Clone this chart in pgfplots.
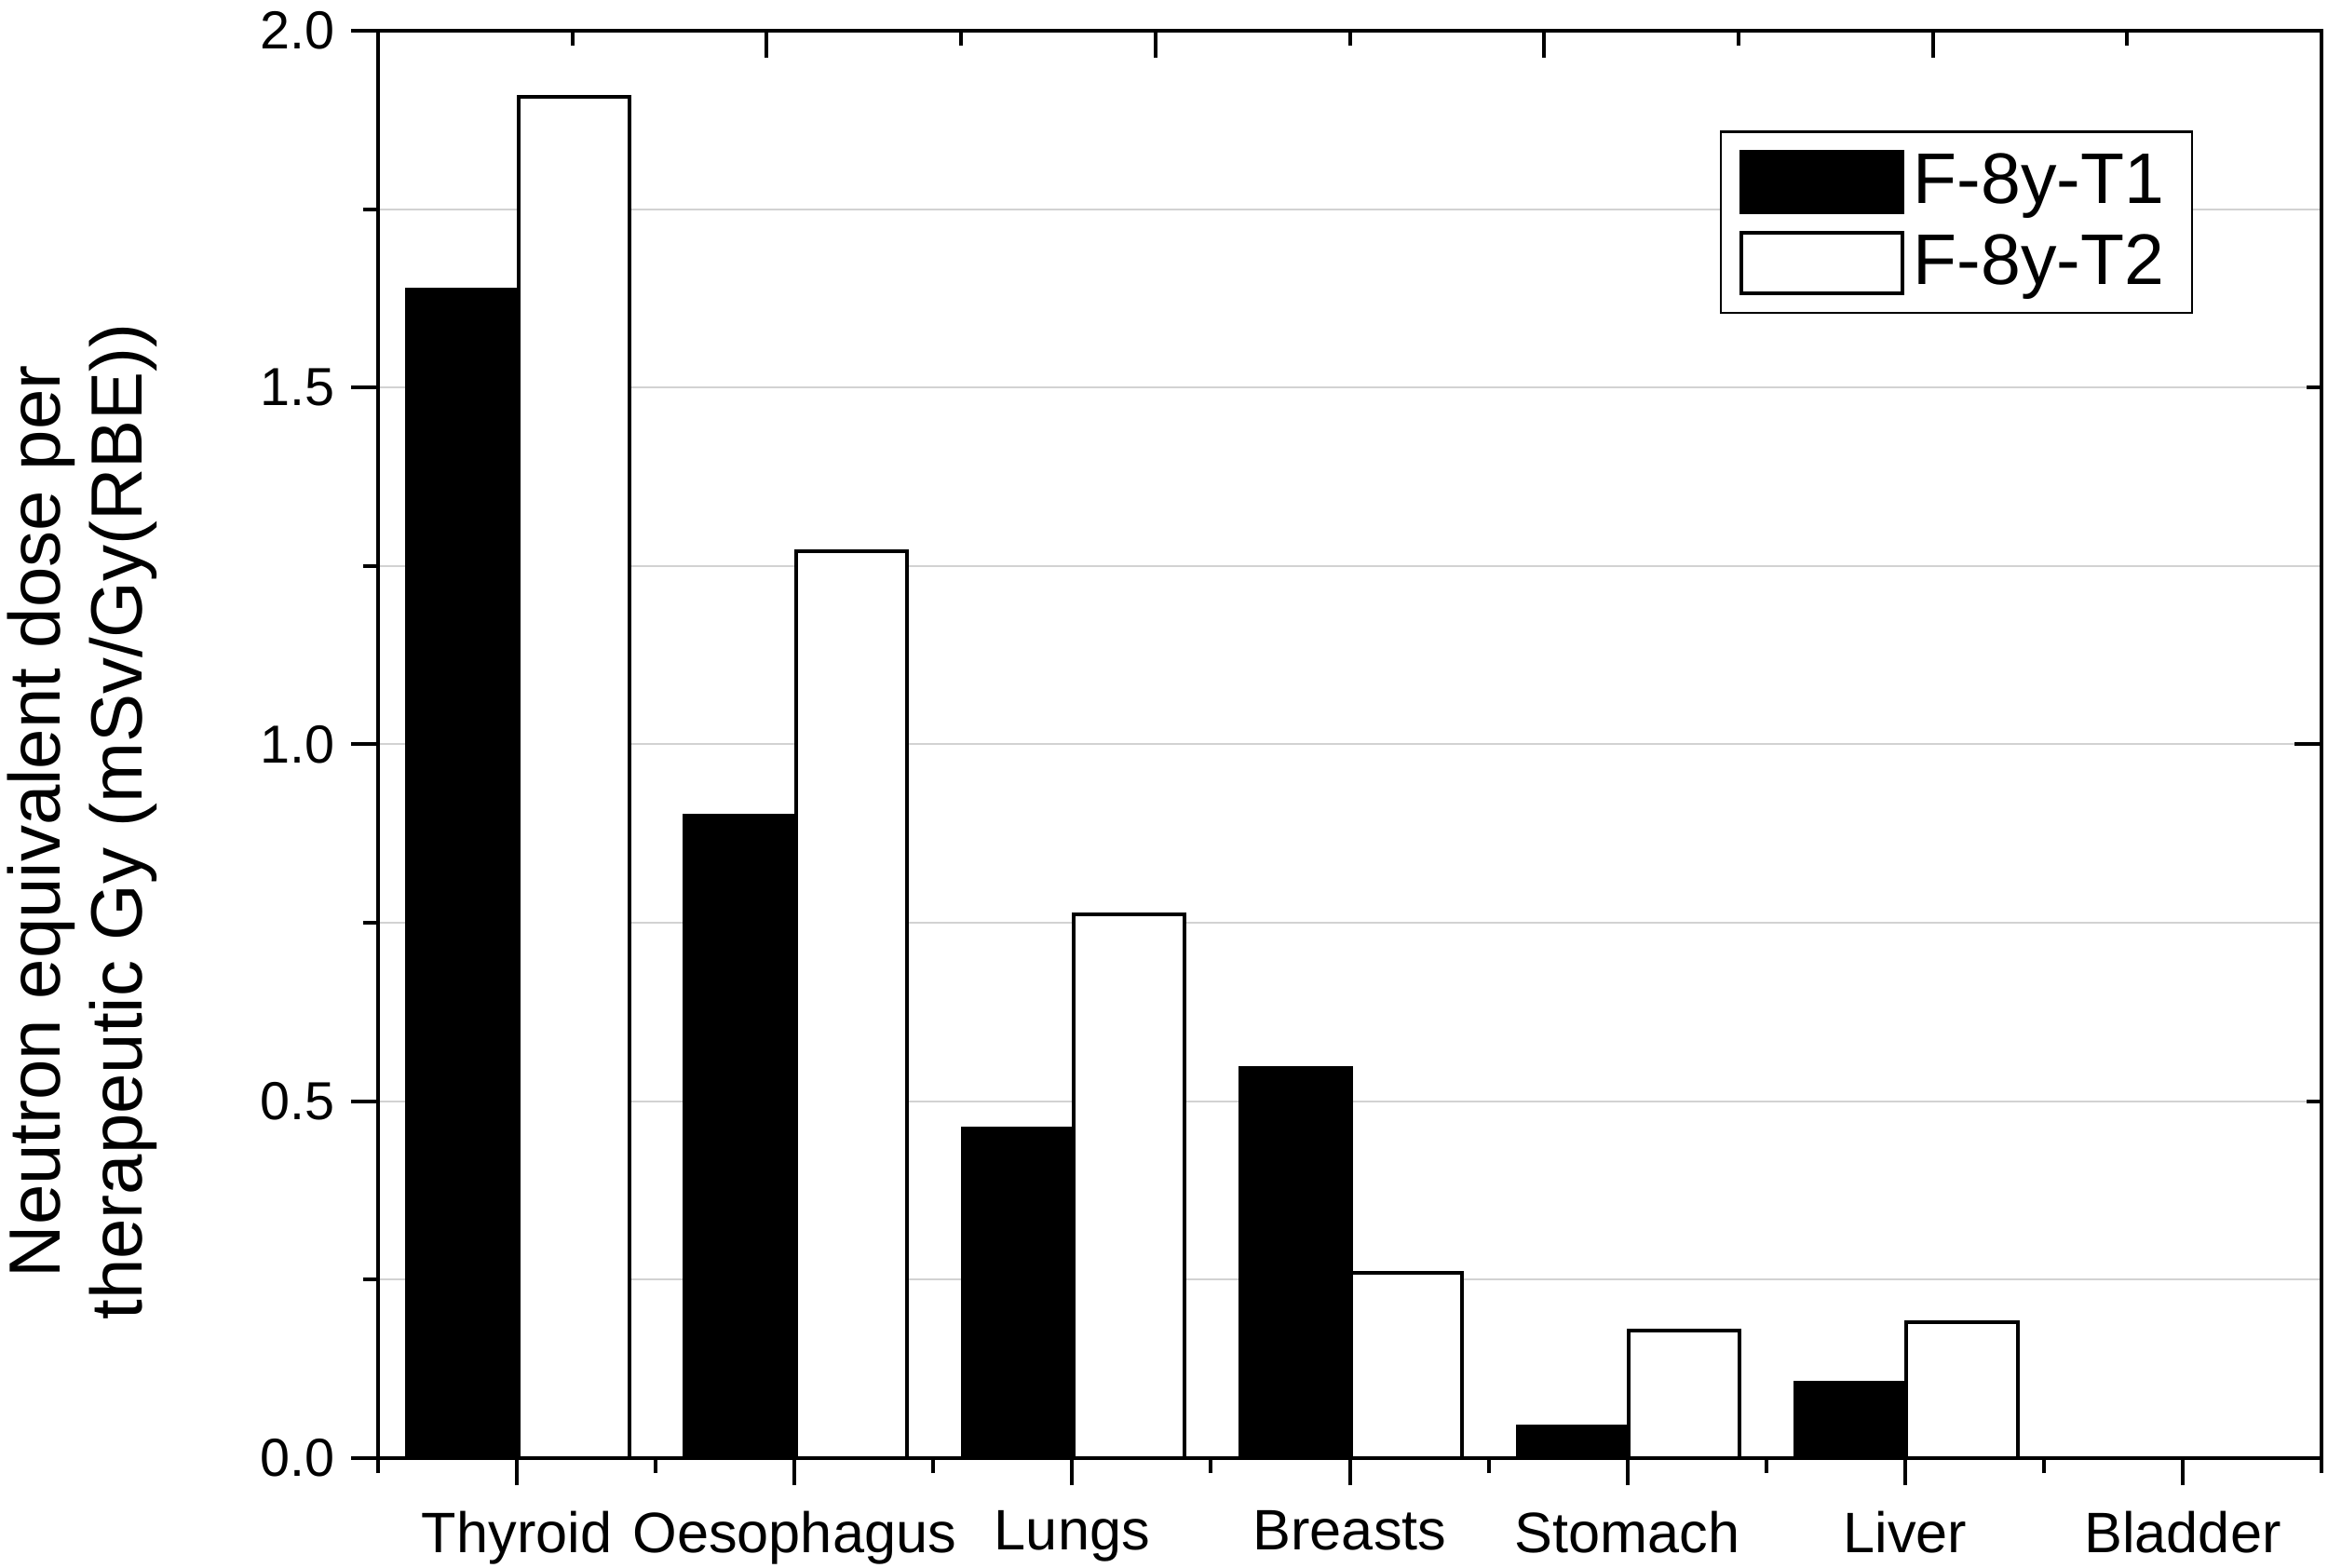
\documentclass[border=0pt]{standalone}
\usepackage{fontspec}
\setmainfont{Liberation Sans}
\usepackage{pgfplots}
\pgfplotsset{compat=1.18}
\begin{document}
\begin{tikzpicture}
\begin{axis}[
  name=ax,
  scale only axis,
  width=417.4pt, height=306.6pt,
  xmin=-0.5, xmax=6.5, ymin=0, ymax=2,
  xtick={0,1,2,3,4,5,6},
  xticklabels={Thyroid,Oesophagus,Lungs,Breasts,Stomach,Liver,Bladder},
  minor xtick={-0.5,0.5,1.5,2.5,3.5,4.5,5.5,6.5},
  ytick={0,0.5,1,1.5,2},
  minor ytick={0.25,0.75,1.25,1.75},
  xtick pos=left, ytick pos=left,
  tick align=outside,
  major tick length=5.8pt, minor tick length=3.2pt,
  every tick/.style={black, line width=0.8pt},
  axis line style={line width=0.9pt},
  ymajorgrids, yminorgrids,
  major grid style={gray!35, line width=0.4pt},
  minor grid style={gray!35, line width=0.4pt},
  /pgf/number format/assume math mode=true,
  yticklabel style={/pgf/number format/fixed, /pgf/number format/fixed zerofill, /pgf/number format/precision=1, font=\fontsize{11.5}{13}\selectfont},
  xticklabel style={font=\fontsize{12.25}{14}\selectfont, yshift=-2pt},
  ylabel={Neutron equivalent dose per\\therapeutic Gy (mSv/Gy(RBE))},
  ylabel style={at={(axis description cs:-0.152,0.446)}, anchor=center, align=center, font=\fontsize{15.6}{17.6}\selectfont},
  legend style={at={(axis description cs:0.934,0.930)}, anchor=north east, draw=black, line width=0.5pt,
    font=\fontsize{15.4}{18}\selectfont, inner xsep=4pt, inner ysep=2.6pt, row sep=1.2pt,
    /tikz/every even column/.append style={column sep=5.5pt}},
  legend image code/.code={\draw[#1, line width=0.8pt] (0pt,-6.5pt) rectangle (34.5pt,6.5pt);},
  legend cell align=left,
]
\addplot[ybar, bar width=0.4, bar shift=-0.195, fill=black, draw=black, line width=0.8pt]
  coordinates {(0,1.637) (1,0.900) (2,0.462) (3,0.546) (4,0.044) (5,0.106) (6,0)};
\addlegendentry{F-8y-T1}
\addplot[ybar, bar width=0.4, bar shift=0.205, fill=white, draw=black, line width=0.8pt]
  coordinates {(0,1.908) (1,1.271) (2,0.762) (3,0.260) (4,0.179) (5,0.190) (6,0)};
\addlegendentry{F-8y-T2}
\end{axis}
\begin{axis}[
  at={(ax.south west)}, anchor=south west,
  scale only axis,
  width=417.4pt, height=306.6pt,
  xmin=-0.5, xmax=6.5, ymin=0, ymax=2,
  xtick={-0.5,0.9,2.3,3.7,5.1,6.5},
  minor xtick={0.2,1.6,3.0,4.4,5.8},
  ytick={0,1,2}, minor ytick={0.5,1.5},
  xticklabels={}, yticklabels={},
  xtick pos=right, ytick pos=right,
  tick align=inside,
  major tick length=5.8pt, minor tick length=3.2pt,
  every tick/.style={black, line width=0.8pt},
  axis line style={line width=0.9pt},
]
\addplot[draw=none] coordinates {(0,0)};
\end{axis}
\pgfresetboundingbox
\path[use as bounding box] ([shift={(-81.2pt,-23.6pt)}]ax.south west) rectangle ([shift={(1.4pt,6.6pt)}]ax.north east);
\end{tikzpicture}
\end{document}
